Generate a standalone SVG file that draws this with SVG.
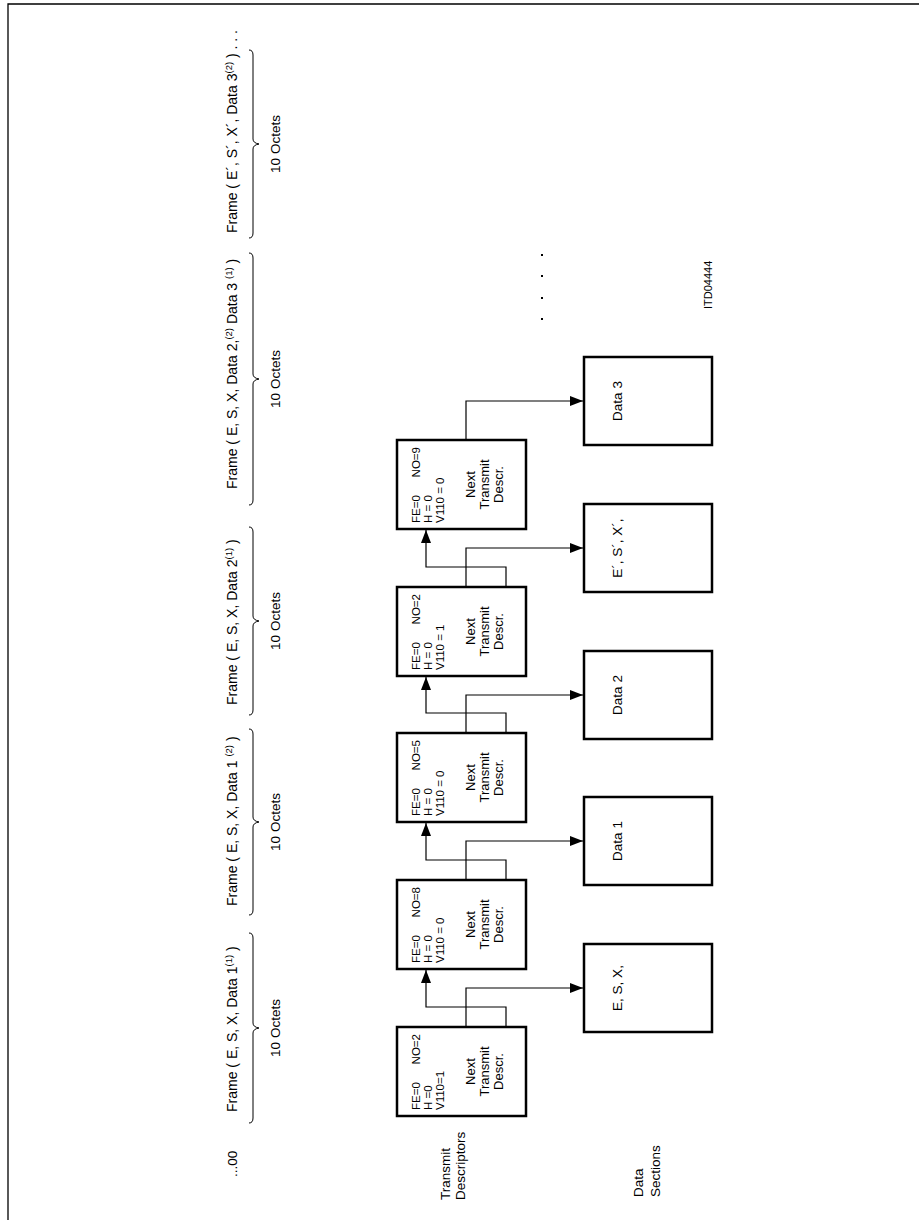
<svg xmlns="http://www.w3.org/2000/svg" width="919" height="1220" viewBox="0 0 919 1220">
<style>
.box{fill:#fff;stroke:#000;stroke-width:2.5}
.conn{fill:none;stroke:#000;stroke-width:1.2}
.brace{fill:none;stroke:#000;stroke-width:1}
text{font-family:"Liberation Sans",Arial,sans-serif;fill:#000}
.lab{font-size:13.5px}
.fr{font-size:14px}
.sm{font-size:11.5px}
.big{font-size:13px}
.id{font-size:11px}
.mid{text-anchor:middle}
.end{text-anchor:end}
</style>
<defs>
<marker id="ah" markerWidth="13" markerHeight="10" refX="13" refY="5" orient="auto" markerUnits="userSpaceOnUse"><path d="M0,0 L13,5 L0,10 z" fill="#000"/></marker>
</defs>
<rect x="0" y="0" width="919" height="1220" fill="#fff"/>
<path d="M8,1220 V4 H919" fill="none" stroke="#000" stroke-width="1.3"/>

<g id="frames">
<text class="lab" transform="translate(237,1177) rotate(-90)">...00</text>
<text class="fr" transform="translate(237,1112) rotate(-90)">Frame ( E, S, X, Data 1<tspan font-size="9.5" dy="-5">(1)</tspan><tspan dy="5"> )</tspan></text>
<text class="fr" transform="translate(237,906) rotate(-90)">Frame ( E, S, X, Data 1 <tspan font-size="9.5" dy="-5">(2)</tspan><tspan dy="5"> )</tspan></text>
<text class="fr" transform="translate(237,705) rotate(-90)">Frame ( E, S, X, Data 2<tspan font-size="9.5" dy="-5">(1)</tspan><tspan dy="5"> )</tspan></text>
<text class="fr" transform="translate(237,489) rotate(-90)">Frame ( E, S, X, Data 2,<tspan font-size="9.5" dy="-5">(2)</tspan><tspan dy="5"> Data 3 </tspan><tspan font-size="9.5" dy="-5">(1)</tspan><tspan dy="5"> )</tspan></text>
<text class="fr" transform="translate(237,233) rotate(-90)">Frame ( E´, S´, X´, Data 3<tspan font-size="9.5" dy="-5">(2)</tspan><tspan dy="5"> )  . . .</tspan></text>
<path class="brace" d="M249,1123 Q253,1123 253,1118 L253,1033 Q253,1029 259,1028 Q253,1027 253,1023 L253,938 Q253,933 249,933"/>
<path class="brace" d="M249,915 Q253,915 253,910 L253,827 Q253,823 259,822 Q253,821 253,817 L253,734 Q253,729 249,729"/>
<path class="brace" d="M249,715 Q253,715 253,710 L253,626 Q253,622 259,621 Q253,620 253,616 L253,532 Q253,527 249,527"/>
<path class="brace" d="M249,505 Q253,505 253,500 L253,384 Q253,380 259,379 Q253,378 253,374 L253,258 Q253,253 249,253"/>
<path class="brace" d="M249,238 Q253,238 253,233 L253,149 Q253,145 259,144 Q253,143 253,139 L253,55 Q253,50 249,50"/>
<text class="lab mid" transform="translate(280,1028) rotate(-90)">10 Octets</text>
<text class="lab mid" transform="translate(280,822) rotate(-90)">10 Octets</text>
<text class="lab mid" transform="translate(280,621) rotate(-90)">10 Octets</text>
<text class="lab mid" transform="translate(280,379) rotate(-90)">10 Octets</text>
<text class="lab mid" transform="translate(280,144) rotate(-90)">10 Octets</text>
</g>

<g id="labels">
<text class="lab" transform="translate(450,1200) rotate(-90)">Transmit</text>
<text class="lab" transform="translate(465,1200) rotate(-90)">Descriptors</text>
<text class="lab" transform="translate(643,1197) rotate(-90)">Data</text>
<text class="lab" transform="translate(660,1197) rotate(-90)">Sections</text>
<text class="id" transform="translate(712,309) rotate(-90)">ITD04444</text>
<rect x="541" y="254" width="2" height="2"/>
<rect x="541" y="275" width="2" height="2"/>
<rect x="541" y="297" width="2" height="2"/>
<rect x="541" y="318" width="2" height="2"/>
</g>

<g id="connectors">
<path class="conn" d="M466,1027 V988 H583" marker-end="url(#ah)"/>
<path class="conn" d="M506,1027 V1007 H426 V970" marker-end="url(#ah)"/>
<path class="conn" d="M466,880 V841 H583" marker-end="url(#ah)"/>
<path class="conn" d="M506,880 V860 H426 V823" marker-end="url(#ah)"/>
<path class="conn" d="M466,733 V695 H583" marker-end="url(#ah)"/>
<path class="conn" d="M506,733 V713 H426 V677" marker-end="url(#ah)"/>
<path class="conn" d="M466,587 V548 H583" marker-end="url(#ah)"/>
<path class="conn" d="M506,587 V567 H426 V530" marker-end="url(#ah)"/>
<path class="conn" d="M466,440 V401 H583" marker-end="url(#ah)"/>
</g>

<g id="td1" transform="translate(397,1116) rotate(-90)">
<rect class="box" x="0" y="0" width="89" height="129"/>
<text class="sm" x="6" y="23">FE=0</text><text class="sm end" x="82" y="23">NO=2</text>
<text class="sm" x="6" y="35">H =0</text>
<text class="sm" x="6" y="47">V110=1</text>
<text class="big mid" x="44.5" y="78">Next</text>
<text class="big mid" x="44.5" y="92">Transmit</text>
<text class="big mid" x="44.5" y="106">Descr.</text>
</g>
<g id="td2" transform="translate(397,969) rotate(-90)">
<rect class="box" x="0" y="0" width="89" height="129"/>
<text class="sm" x="6" y="23">FE=0</text><text class="sm end" x="82" y="23">NO=8</text>
<text class="sm" x="6" y="35">H = 0</text>
<text class="sm" x="6" y="47">V110 = 0</text>
<text class="big mid" x="44.5" y="78">Next</text>
<text class="big mid" x="44.5" y="92">Transmit</text>
<text class="big mid" x="44.5" y="106">Descr.</text>
</g>
<g id="td3" transform="translate(397,822) rotate(-90)">
<rect class="box" x="0" y="0" width="89" height="129"/>
<text class="sm" x="6" y="23">FE=0</text><text class="sm end" x="82" y="23">NO=5</text>
<text class="sm" x="6" y="35">H = 0</text>
<text class="sm" x="6" y="47">V110 = 0</text>
<text class="big mid" x="44.5" y="78">Next</text>
<text class="big mid" x="44.5" y="92">Transmit</text>
<text class="big mid" x="44.5" y="106">Descr.</text>
</g>
<g id="td4" transform="translate(397,676) rotate(-90)">
<rect class="box" x="0" y="0" width="89" height="129"/>
<text class="sm" x="6" y="23">FE=0</text><text class="sm end" x="82" y="23">NO=2</text>
<text class="sm" x="6" y="35">H = 0</text>
<text class="sm" x="6" y="47">V110 = 1</text>
<text class="big mid" x="44.5" y="78">Next</text>
<text class="big mid" x="44.5" y="92">Transmit</text>
<text class="big mid" x="44.5" y="106">Descr.</text>
</g>
<g id="td5" transform="translate(397,529) rotate(-90)">
<rect class="box" x="0" y="0" width="89" height="129"/>
<text class="sm" x="6" y="23">FE=0</text><text class="sm end" x="82" y="23">NO=9</text>
<text class="sm" x="6" y="35">H = 0</text>
<text class="sm" x="6" y="47">V110 = 0</text>
<text class="big mid" x="44.5" y="78">Next</text>
<text class="big mid" x="44.5" y="92">Transmit</text>
<text class="big mid" x="44.5" y="106">Descr.</text>
</g>

<g id="ds1" transform="translate(584,1032) rotate(-90)">
<rect class="box" x="0" y="0" width="88" height="128"/>
<text class="lab mid" x="44" y="38">E, S, X,</text>
</g>
<g id="ds2" transform="translate(584,885) rotate(-90)">
<rect class="box" x="0" y="0" width="88" height="128"/>
<text class="lab mid" x="44" y="38">Data 1</text>
</g>
<g id="ds3" transform="translate(584,739) rotate(-90)">
<rect class="box" x="0" y="0" width="88" height="128"/>
<text class="lab mid" x="44" y="38">Data 2</text>
</g>
<g id="ds4" transform="translate(584,592) rotate(-90)">
<rect class="box" x="0" y="0" width="88" height="128"/>
<text class="lab mid" x="44" y="38">E´, S´, X´,</text>
</g>
<g id="ds5" transform="translate(584,445) rotate(-90)">
<rect class="box" x="0" y="0" width="88" height="128"/>
<text class="lab mid" x="44" y="38">Data 3</text>
</g>
</svg>
